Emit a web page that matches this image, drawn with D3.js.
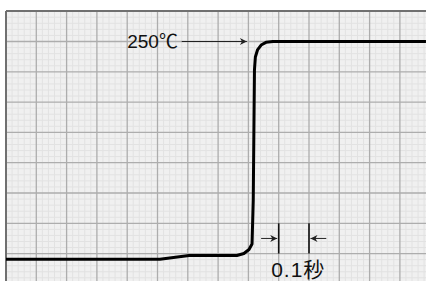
<!DOCTYPE html>
<html><head><meta charset="utf-8">
<script src="https://cdn.jsdelivr.net/npm/d3@7"></script>
<style>
html,body{margin:0;padding:0;background:#fff;}
svg{display:block;}
text{font-family:"Liberation Sans",Arial,"Noto Sans CJK JP",sans-serif;fill:#111;}
</style></head>
<body>
<script>
// ---- data (time in seconds, temperature in ℃) ----
const timeValues = [0, 0.508, 0.604, 0.762, 0.785, 0.802, 0.812, 0.816, 0.820, 0.823, 0.830, 0.842, 0.858, 0.881, 1.386];
const tempValues = [70.3, 70.3, 73.4, 73.4, 75.1, 78.4, 82.9, 119.2, 226.5, 237.2, 243.0, 247.1, 249.3, 250.0, 250.0];
const annotTemp = 250;           // "250℃" level
const annotLabel = "250℃";
const spanTimes = [0.9, 1.0];    // 0.1 s span markers
const spanLabel = "0.1秒";

// ---- layout ----
const W = 426, H = 281;
const padL = 6, padT = 11;
const majorPx = 30.3;
const x = d3.scaleLinear().domain([0, 0.1]).range([padL, padL + majorPx]);
const y = d3.scaleLinear().domain([0, 25]).range([344.5, 344.5 - majorPx]);

const svg = d3.select("body").append("svg").attr("width", W).attr("height", H);
const defs = svg.append("defs");
defs.append("marker").attr("id","ah").attr("viewBox","0 0 10 10")
  .attr("refX",10).attr("refY",5).attr("markerWidth",8).attr("markerHeight",7)
  .attr("markerUnits","userSpaceOnUse").attr("orient","auto")
  .append("path").attr("d","M0,0L10,5L0,10L3,5Z").attr("fill","#222");

// background
svg.append("rect").attr("x",padL).attr("y",padT).attr("width",W-padL).attr("height",H-padT).attr("fill","#f0f0f0");

const tMax = x.invert(W), vMax = y.invert(padT), vMin = y.invert(H);
const g = svg.append("g");
// minor grid
const minorX = d3.range(0, tMax, 0.02).filter(v => Math.round(v/0.02)%5 !== 0);
const minorY = d3.range(Math.ceil(vMin/5)*5, vMax, 5).filter(v => Math.round(v/5)%5 !== 0);
g.selectAll(".mx").data(minorX).join("line")
  .attr("x1",d=>x(d)).attr("x2",d=>x(d)).attr("y1",padT).attr("y2",H)
  .attr("stroke","#e2e2e2").attr("stroke-width",1);
g.selectAll(".my").data(minorY).join("line")
  .attr("y1",d=>y(d)).attr("y2",d=>y(d)).attr("x1",padL).attr("x2",W)
  .attr("stroke","#e2e2e2").attr("stroke-width",1);
// major grid
const majorX = d3.range(0.1, tMax, 0.1);
const majorY = d3.range(Math.ceil(vMin/25)*25, vMax, 25);
g.selectAll(".Mx").data(majorX).join("line")
  .attr("x1",d=>x(d)).attr("x2",d=>x(d)).attr("y1",padT).attr("y2",H)
  .attr("stroke","#adadad").attr("stroke-width",1.3);
g.selectAll(".My").data(majorY).join("line")
  .attr("y1",d=>y(d)).attr("y2",d=>y(d)).attr("x1",padL).attr("x2",W)
  .attr("stroke","#adadad").attr("stroke-width",1.3);
// frame (top, left)
svg.append("line").attr("x1",padL).attr("x2",W).attr("y1",padT).attr("y2",padT).attr("stroke","#707070").attr("stroke-width",2);
svg.append("line").attr("x1",padL).attr("x2",padL).attr("y1",padT).attr("y2",H).attr("stroke","#707070").attr("stroke-width",2);

// curve
const pts = timeValues.map((t,i)=>[t,tempValues[i]]);
svg.append("path").datum(pts)
  .attr("d", d3.line().x(d=>x(d[0])).y(d=>y(d[1])).curve(d3.curveLinear))
  .attr("fill","none").attr("stroke","#000").attr("stroke-width",3).attr("stroke-linejoin","round");

// 250℃ annotation
svg.append("text").attr("x",x(0.4)).attr("y",y(annotTemp)+6).attr("font-size",19).text(annotLabel);
svg.append("line").attr("x1",x(0.58)).attr("x2",x(0.795)).attr("y1",y(annotTemp)).attr("y2",y(annotTemp))
  .attr("stroke","#222").attr("stroke-width",1).attr("marker-end","url(#ah)");

// 0.1 s span
svg.selectAll(".span").data(spanTimes).join("line")
  .attr("x1",d=>x(d)).attr("x2",d=>x(d)).attr("y1",y(100)).attr("y2",y(75))
  .attr("stroke","#111").attr("stroke-width",1.6);
const yArr = y(87.5);
svg.append("line").attr("x1",x(spanTimes[0]-0.058)).attr("x2",x(spanTimes[0])-1.5).attr("y1",yArr).attr("y2",yArr)
  .attr("stroke","#222").attr("stroke-width",1).attr("marker-end","url(#ah)");
svg.append("line").attr("x1",x(spanTimes[1]+0.057)).attr("x2",x(spanTimes[1])+1.5).attr("y1",yArr).attr("y2",yArr)
  .attr("stroke","#222").attr("stroke-width",1).attr("marker-end","url(#ah)");
svg.append("text").attr("x",x(0.875)).attr("y",277).attr("font-size",21).attr("letter-spacing",1).text(spanLabel);
</script>
</body></html>
